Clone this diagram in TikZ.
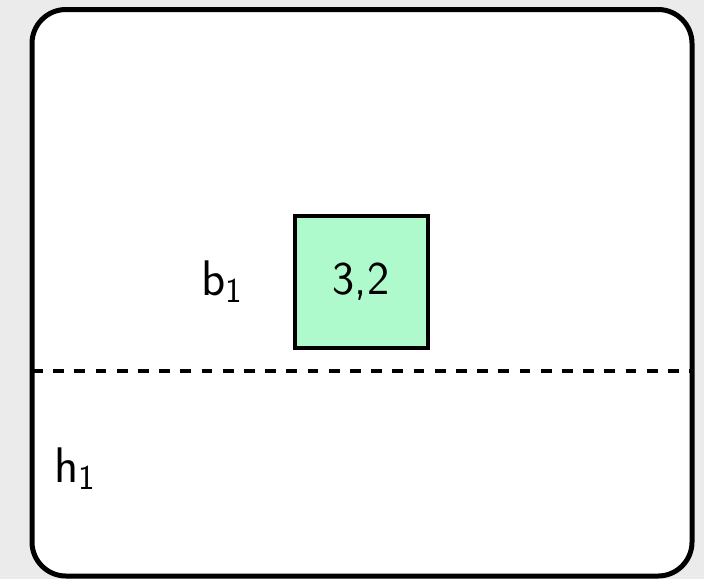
\documentclass[tikz,border=0pt]{standalone}
\usepackage{fontspec}
\definecolor{bggrey}{HTML}{EBEBEB}
\definecolor{cellgreen}{HTML}{AFFACD}
\tikzset{
  frame/.style={draw=black, line width=2.5pt, fill=white, rounded corners=17pt},
  cell/.style={draw=black, line width=2.2pt, fill=cellgreen},
  divider/.style={draw=black, line width=2pt, dash pattern=on 5.4pt off 5.2pt},
  lbl/.style={inner sep=0pt, font=\sffamily\fontsize{25}{28}\selectfont},
  celltext/.style={inner sep=0pt, font=\sffamily\fontsize{23.5}{27}\selectfont}
}
\begin{document}
\begin{tikzpicture}[x=0.5pt, y=-0.5pt]
\fill[bggrey] (0,0) rectangle (704,579);
\useasboundingbox (0,0) rectangle (704,579);
\draw[frame] (32,9.5) rectangle (692,576);
\coordinate (dl) at (32,371);
\coordinate (dr) at (692,371);
\draw[divider] (dl) -- (dr);
\node[cell, minimum width=66.5pt, minimum height=66pt, inner sep=0pt] (c) at (361.5,282) {};
\node[celltext, anchor=base] (ct) at (361,294) {3,2};
\node[lbl, anchor=base west] (b) at (201,295) {$\mathsf{b}_{\mathsf{1}}$};
\node[lbl, anchor=base west] (h) at (54,482) {$\mathsf{h}_{\mathsf{1}}$};
\end{tikzpicture}
\end{document}
